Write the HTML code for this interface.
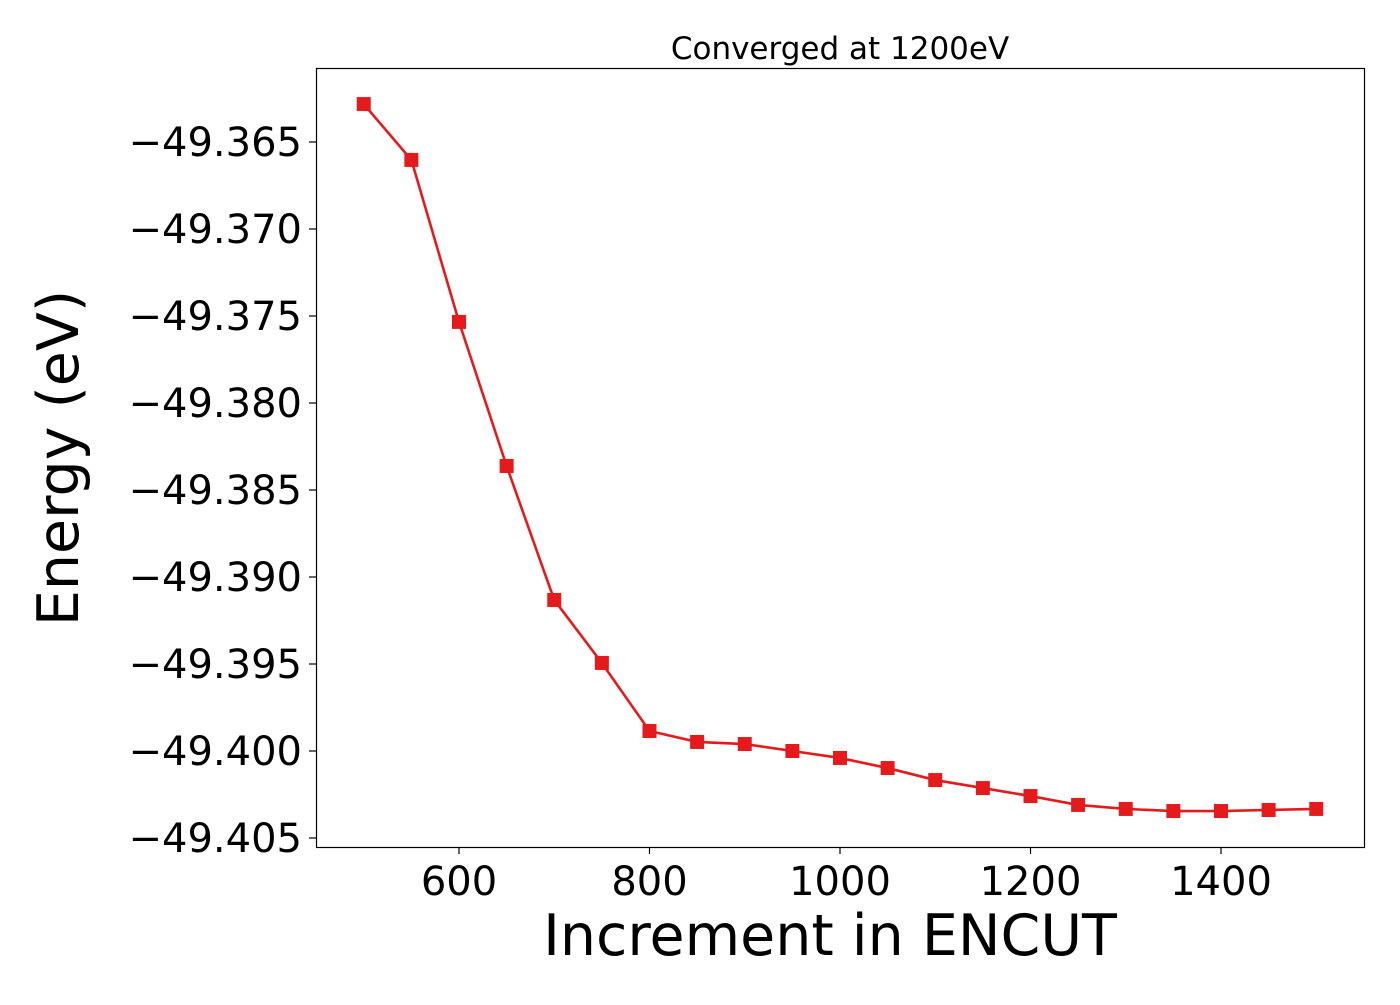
<!DOCTYPE html>
<html><head><meta charset="utf-8"><style>
html,body{margin:0;padding:0;background:#fff;}
svg text{font-family:"DejaVu Sans","Liberation Sans",sans-serif;fill:#000;}
</style></head><body>
<svg id="chart" width="1400" height="1000" xmlns="http://www.w3.org/2000/svg">
<rect x="0" y="0" width="1400" height="1000" fill="#fff"/>
<text x="840" y="59" font-size="31" text-anchor="middle">Converged at 1200eV</text>
<text x="830" y="955" font-size="57" text-anchor="middle">Increment in ENCUT</text>
<text transform="translate(78,458) rotate(-90)" font-size="57" text-anchor="middle">Energy (eV)</text>
<g id="axes"></g>
<g id="series"></g>
<rect x="316.5" y="68.5" width="1048" height="779" fill="none" stroke="#000" stroke-width="1.2"/>
</svg>
<script>
const categories=[500,550,600,650,700,750,800,850,900,950,1000,1050,1100,1150,1200,1250,1300,1350,1400,1450,1500];
const energies=[-49.36282,-49.36603,-49.37534,-49.38362,-49.39132,-49.39494,-49.39885,-49.39948,-49.39960,-49.40000,-49.40040,-49.40098,-49.40167,-49.40213,-49.40259,-49.40310,-49.40333,-49.40345,-49.40345,-49.40339,-49.40333];
const xTicks=[600,800,1000,1200,1400];
const yTicks=[-49.365,-49.370,-49.375,-49.380,-49.385,-49.390,-49.395,-49.400,-49.405];
const yTickLabels=["\u221249.365","\u221249.370","\u221249.375","\u221249.380","\u221249.385","\u221249.390","\u221249.395","\u221249.400","\u221249.405"];
const NS="http://www.w3.org/2000/svg";
function xs(v){return 459+(v-600)*(190.5/200);}
function ys(v){return 142+(-49.365-v)/0.005*87.0;}
const axes=document.getElementById('axes');
const series=document.getElementById('series');
xTicks.forEach(t=>{
  const l=document.createElementNS(NS,'line');
  l.setAttribute('x1',xs(t));l.setAttribute('x2',xs(t));l.setAttribute('y1',847);l.setAttribute('y2',854);
  l.setAttribute('stroke','#000');l.setAttribute('stroke-width','1.2');
  
  
  axes.appendChild(l);
  const tx=document.createElementNS(NS,'text');
  tx.setAttribute('x',xs(t));tx.setAttribute('y',895);tx.setAttribute('font-size','40');tx.setAttribute('text-anchor','middle');
  tx.textContent=t;
  
  
  axes.appendChild(tx);
});
yTicks.forEach((t,i)=>{
  const l=document.createElementNS(NS,'line');
  l.setAttribute('x1',309);l.setAttribute('x2',316);l.setAttribute('y1',ys(t));l.setAttribute('y2',ys(t));
  l.setAttribute('stroke','#000');l.setAttribute('stroke-width','1.2');
  
  
  axes.appendChild(l);
  const tx=document.createElementNS(NS,'text');
  tx.setAttribute('x',302);tx.setAttribute('y',ys(t)+14);tx.setAttribute('font-size','40');tx.setAttribute('text-anchor','end');
  tx.textContent=yTickLabels[i];
  
  
  axes.appendChild(tx);
});
const pl=document.createElementNS(NS,'polyline');
pl.setAttribute('points',categories.map((c,i)=>xs(c)+','+ys(energies[i])).join(' '));
pl.setAttribute('fill','none');pl.setAttribute('stroke','#e41a1c');pl.setAttribute('stroke-width','2.6');


series.appendChild(pl);
categories.forEach((c,i)=>{
  const r=document.createElementNS(NS,'rect');
  r.setAttribute('x',xs(c)-7);r.setAttribute('y',ys(energies[i])-7);r.setAttribute('width',14);r.setAttribute('height',14);
  r.setAttribute('fill','#e41a1c');
  
  
  series.appendChild(r);
});
</script>
</body></html>
